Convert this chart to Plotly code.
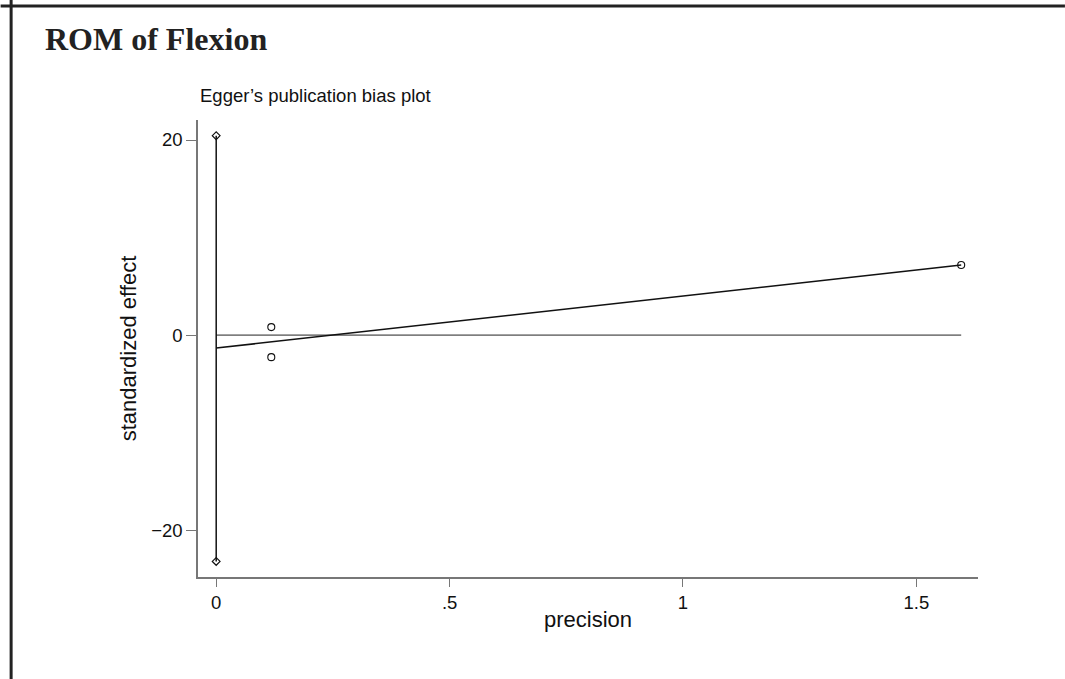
import plotly.graph_objects as go

# Data
study_precision = [0.118, 0.118, 1.596]
study_effect = [0.82, -2.26, 7.18]
intercept = -1.33
slope = 5.33
ci_x = [0.0, 0.0]
ci_y = [20.44, -23.2]
x_ticks = [0, 0.5, 1, 1.5]
x_tick_labels = ["0", ".5", "1", "1.5"]
y_ticks = [-20, 0, 20]
y_tick_labels = ["\u221220", "0", "20"]

W, H = 1065, 679
L, R, T, B = 197.5, 978, 120, 576.7

max_prec = max(study_precision)
fit_x = [0.0, max_prec]
fit_y = [intercept + slope * v for v in fit_x]

fig = go.Figure()
# zero reference line
fig.add_trace(go.Scatter(x=[0.0, max_prec], y=[0, 0], mode="lines",
                         line=dict(color="#222", width=1), hoverinfo="skip"))
# CI of intercept
fig.add_trace(go.Scatter(x=ci_x, y=ci_y, mode="lines+markers",
                         line=dict(color="#111", width=1.5),
                         marker=dict(symbol="diamond-open", size=6, color="#111",
                                     line=dict(width=1.2))))
# regression line
fig.add_trace(go.Scatter(x=fit_x, y=fit_y, mode="lines",
                         line=dict(color="#111", width=1.5)))
# studies
fig.add_trace(go.Scatter(x=study_precision, y=study_effect, mode="markers",
                         marker=dict(symbol="circle-open", size=7, color="#111",
                                     line=dict(width=1.1))))

def px2x(p):
    return (p - L) / (R - L)

def py2y(p):
    return (B - p) / (B - T)

shapes = [
    dict(type="line", xref="paper", yref="paper", x0=px2x(0), x1=px2x(W),
         y0=py2y(6), y1=py2y(6), line=dict(color="#222", width=3)),
    dict(type="line", xref="paper", yref="paper", x0=px2x(10.5), x1=px2x(10.5),
         y0=py2y(0), y1=py2y(H), line=dict(color="#222", width=3)),
]

annotations = [
    dict(text="<b>ROM of Flexion</b>", xref="paper", yref="paper",
         x=px2x(42), y=py2y(59), xanchor="left", yanchor="bottom", showarrow=False,
         font=dict(family="Liberation Serif", size=32, color="#222")),
    dict(text="Egger\u2019s publication bias plot", xref="paper", yref="paper",
         x=px2x(197), y=py2y(108), xanchor="left", yanchor="bottom", showarrow=False,
         font=dict(family="Liberation Sans", size=18.5, color="#111")),
]

fig.update_layout(
    width=W, height=H,
    margin=dict(l=L, r=W - R, t=T, b=H - B, pad=0),
    paper_bgcolor="white", plot_bgcolor="white",
    showlegend=False,
    shapes=shapes, annotations=annotations,
    font=dict(family="Liberation Sans", size=18.5, color="#111"),
    xaxis=dict(range=[-0.039, 1.632], tickvals=x_ticks, ticktext=x_tick_labels,
               showgrid=False, zeroline=False, showline=True, linecolor="#777",
               linewidth=1.5, ticks="outside", ticklen=8, tickcolor="#777",
               tickwidth=1, title=dict(text="precision", standoff=0),
               tickfont=dict(size=18.5)),
    yaxis=dict(range=[-24.8, 22.05], tickvals=y_ticks, ticktext=y_tick_labels,
               showgrid=False, zeroline=False, showline=True, linecolor="#777",
               linewidth=1.5, ticks="outside", ticklen=10, tickcolor="#777",
               tickwidth=1, title=dict(text="standardized effect", standoff=8),
               tickfont=dict(size=18.5)),
)

fig.write_html("out.html", config={"displayModeBar": False},
               post_script="document.body.style.margin='0';document.body.style.padding='0';")
